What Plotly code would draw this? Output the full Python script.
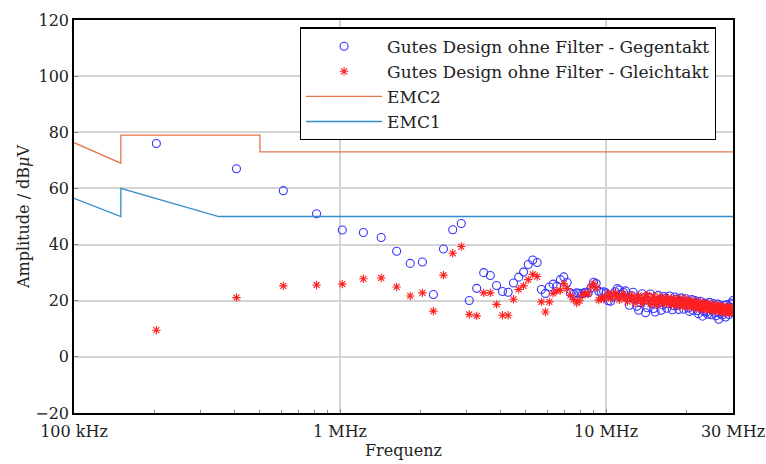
import plotly.graph_objects as go

# Measurement frequencies (MHz)
FREQ_MHZ = [
    0.204, 0.408, 0.612, 0.816, 1.02, 1.224, 1.428, 1.632, 1.836, 2.04,
    2.244, 2.448, 2.652, 2.856, 3.06, 3.264, 3.468, 3.672, 3.876, 4.08,
    4.284, 4.488, 4.692, 4.896, 5.1, 5.304, 5.508, 5.712, 5.916, 6.12,
    6.324, 6.528, 6.732, 6.936, 7.14, 7.344, 7.548, 7.752, 7.956, 8.16,
    8.364, 8.568, 8.772, 8.976, 9.18, 9.384, 9.588, 9.792, 9.996, 10.2,
    10.404, 10.608, 10.812, 11.016, 11.22, 11.424, 11.628, 11.832, 12.036, 12.24,
    12.444, 12.648, 12.852, 13.056, 13.26, 13.464, 13.668, 13.872, 14.076, 14.28,
    14.484, 14.688, 14.892, 15.096, 15.3, 15.504, 15.708, 15.912, 16.116, 16.32,
    16.524, 16.728, 16.932, 17.136, 17.34, 17.544, 17.748, 17.952, 18.156, 18.36,
    18.564, 18.768, 18.972, 19.176, 19.38, 19.584, 19.788, 19.992, 20.196, 20.4,
    20.604, 20.808, 21.012, 21.216, 21.42, 21.624, 21.828, 22.032, 22.236, 22.44,
    22.644, 22.848, 23.052, 23.256, 23.46, 23.664, 23.868, 24.072, 24.276, 24.48,
    24.684, 24.888, 25.092, 25.296, 25.5, 25.704, 25.908, 26.112, 26.316, 26.52,
    26.724, 26.928, 27.132, 27.336, 27.54, 27.744, 27.948, 28.152, 28.356, 28.56,
    28.764, 28.968, 29.172, 29.376, 29.58, 29.784, 29.988,
]

# Gegentakt (differential mode), dBuV
GEGENTAKT_DB = [
    76.0, 67.0, 59.2, 51.0, 45.2, 44.3, 42.5, 37.6, 33.3, 33.8,
    22.2, 38.4, 45.3, 47.5, 20.1, 24.4, 30.0, 29.0, 25.4, 23.3,
    23.0, 26.3, 28.4, 30.2, 32.9, 34.5, 33.6, 24.0, 22.6, 24.9,
    25.9, 25.2, 27.5, 28.5, 26.5, 22.8, 22.3, 22.8, 22.6, 22.6,
    23.0, 22.8, 24.5, 26.6, 26.1, 23.4, 22.9, 23.2, 22.8, 20.0,
    19.8, 21.5, 23.2, 24.3, 23.8, 22.4, 22.9, 23.5, 20.9, 18.4,
    21.8, 23.0, 20.5, 18.0, 16.6, 19.4, 22.5, 21.0, 15.7, 17.5,
    21.2, 22.4, 19.0, 17.2, 16.0, 19.8, 21.9, 20.3, 16.6, 18.5,
    21.5, 20.8, 17.3, 18.9, 21.7, 19.6, 16.8, 18.2, 21.3, 20.5,
    18.4, 16.9, 19.8, 21.0, 19.2, 17.0, 18.6, 20.7, 19.9, 17.4,
    16.2, 18.9, 20.4, 16.6, 17.8, 20.1, 19.3, 16.5, 15.4, 18.0,
    19.8, 17.6, 14.5, 16.3, 19.2, 18.7, 16.0, 15.2, 17.9, 19.4,
    17.1, 15.0, 16.6, 19.0, 18.3, 15.8, 14.6, 17.2, 18.8, 13.4,
    15.5, 18.1, 17.5, 14.9, 15.9, 18.4, 17.0, 14.2, 16.4, 18.6,
    17.3, 15.1, 16.8, 18.9, 17.6, 19.2, 20.1,
]

# Gleichtakt (common mode), dBuV
GLEICHTAKT_DB = [
    9.5, 21.1, 25.3, 25.6, 25.9, 27.8, 28.1, 24.9, 21.7, 22.8,
    16.3, 29.1, 36.9, 39.3, 15.1, 14.6, 22.8, 22.8, 18.7, 14.8,
    14.8, 20.5, 24.0, 25.3, 27.5, 29.4, 28.6, 19.6, 16.0, 19.6,
    22.6, 23.5, 23.7, 26.0, 24.3, 21.9, 20.4, 19.2, 20.0, 21.9,
    22.6, 22.4, 24.9, 26.1, 24.6, 20.2, 21.0, 20.6, 21.4, 22.6,
    20.8, 21.9, 22.8, 21.5, 20.3, 21.8, 22.5, 20.9, 19.7, 21.3,
    22.0, 20.4, 19.2, 20.8, 21.9, 20.6, 19.0, 20.2, 21.6, 22.1,
    20.0, 18.8, 20.5, 21.7, 19.6, 18.4, 20.3, 21.4, 20.1, 18.9,
    19.8, 21.2, 20.6, 18.7, 19.5, 21.0, 19.9, 18.3, 19.1, 20.8,
    20.2, 18.6, 18.0, 19.7, 20.9, 19.3, 17.8, 18.9, 20.4, 19.6,
    17.7, 18.5, 20.0, 19.1, 17.4, 18.2, 19.8, 18.8, 17.1, 17.9,
    19.5, 18.4, 16.8, 17.6, 19.2, 18.6, 16.9, 17.3, 18.9, 18.1,
    16.6, 17.2, 18.7, 17.8, 16.4, 16.9, 18.5, 17.7, 16.2, 16.8,
    18.3, 17.4, 15.9, 16.6, 18.0, 17.2, 15.7, 16.4, 17.9, 17.0,
    15.6, 16.3, 17.8, 16.9, 15.5, 16.5, 17.6,
]

# Limit lines
EMC2_FREQ_MHZ = [0.1, 0.15, 0.15, 0.5, 0.5, 30.0]
EMC2_DB = [76.3, 69.0, 79.0, 79.0, 73.0, 73.0]
EMC1_FREQ_MHZ = [0.1, 0.15, 0.15, 0.35, 30.0]
EMC1_DB = [56.5, 50.0, 60.0, 50.0, 50.0]

X_TICK_VALS_HZ = [1e5, 1e6, 1e7, 3e7]
X_TICK_TEXT = ["100 kHz", "1 MHz", "10 MHz", "30 MHz"]
Y_TICK_VALS = [-20, 0, 20, 40, 60, 80, 100, 120]
Y_TICK_TEXT = ["\u221220", "0", "20", "40", "60", "80", "100", "120"]
MINOR_X_HZ = [2e5, 3e5, 4e5, 5e5, 6e5, 7e5, 8e5, 9e5,
              2e6, 3e6, 4e6, 5e6, 6e6, 7e6, 8e6, 9e6, 2e7]


def hz(mhz_list):
    return [v * 1e6 for v in mhz_list]


FONT = "DejaVu Serif"
FS = 16
fig = go.Figure()

fig.add_trace(go.Scatter(
    x=hz(FREQ_MHZ), y=GEGENTAKT_DB, mode="markers",
    name="Gutes Design ohne Filter - Gegentakt",
    marker=dict(symbol="circle-open", size=8, color="#3333ff",
                line=dict(width=1.1, color="#3333ff")),
))
fig.add_trace(go.Scatter(
    x=hz(FREQ_MHZ), y=GLEICHTAKT_DB, mode="markers",
    name="Gutes Design ohne Filter - Gleichtakt",
    marker=dict(symbol="asterisk-open", size=7, color="#ff2020",
                line=dict(width=1.1, color="#ff2020")),
))
fig.add_trace(go.Scatter(
    x=hz(EMC2_FREQ_MHZ), y=EMC2_DB, mode="lines", name="EMC2",
    line=dict(color="#e4774b", width=1.3),
))
fig.add_trace(go.Scatter(
    x=hz(EMC1_FREQ_MHZ), y=EMC1_DB, mode="lines", name="EMC1",
    line=dict(color="#338dcc", width=1.3),
))

fig.update_layout(
    width=766, height=464,
    margin=dict(l=74, r=33, t=20, b=51),
    paper_bgcolor="white", plot_bgcolor="white",
    font=dict(family=FONT, size=FS, color="#222222"),
    showlegend=True,
    legend=dict(
        x=0.974, y=0.981, xanchor="right", yanchor="top",
        bgcolor="white", bordercolor="black", borderwidth=1.2,
        font=dict(family=FONT, size=17, color="#222222"),
        itemwidth=76, tracegroupgap=0,
    ),
    xaxis=dict(
        type="log", range=[5, 7.47712],
        tickvals=X_TICK_VALS_HZ, ticktext=X_TICK_TEXT,
        showgrid=True, gridcolor="#d4d4d4", gridwidth=1.5,
        showline=True, mirror=True, linecolor="black", linewidth=1.5,
        ticks="inside", ticklen=4, tickcolor="#888888",
        ticklabelstandoff=3,
        minor=dict(tickvals=MINOR_X_HZ, ticks="inside", ticklen=3,
                   tickcolor="#888888", showgrid=False),
        title=dict(text="Frequenz", standoff=2,
                   font=dict(family=FONT, size=FS)),
        zeroline=False, automargin=False,
    ),
    yaxis=dict(
        range=[-20, 120],
        tickvals=Y_TICK_VALS, ticktext=Y_TICK_TEXT,
        showgrid=True, gridcolor="#d4d4d4", gridwidth=1.5,
        showline=True, mirror=True, linecolor="black", linewidth=1.5,
        ticks="inside", ticklen=4, tickcolor="#888888",
        title=dict(text="Amplitude / dB<i>\u03bc</i>V", standoff=2,
                   font=dict(family=FONT, size=FS)),
        zeroline=False, automargin=False,
    ),
)

fig.write_html("out.html")
